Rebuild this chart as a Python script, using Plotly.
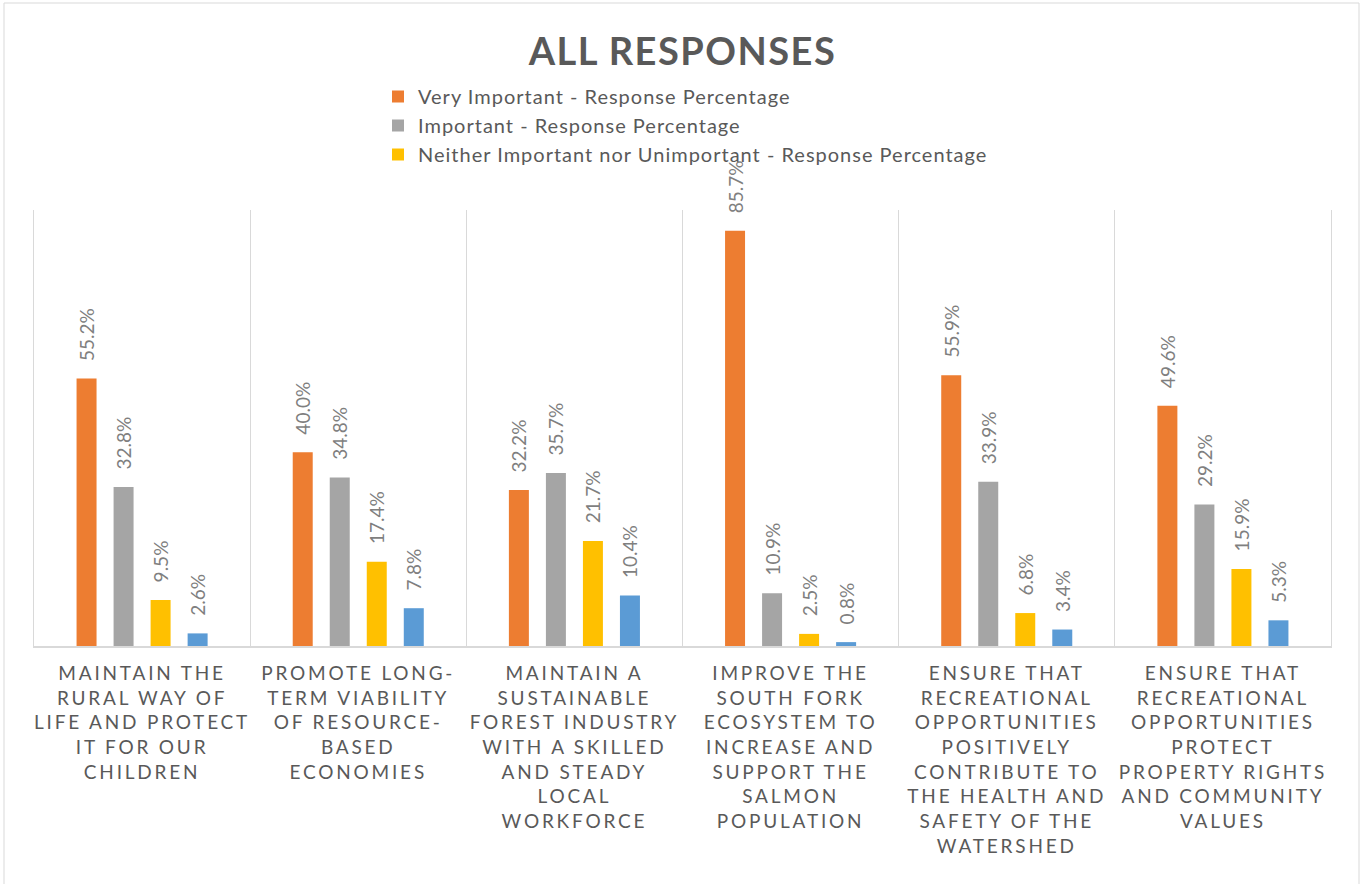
import plotly.graph_objects as go

# Survey priorities, grouped by response level
categories = [
    "MAINTAIN THE<br>RURAL WAY OF<br>LIFE AND PROTECT<br>IT FOR OUR<br>CHILDREN",
    "PROMOTE LONG-<br>TERM VIABILITY<br>OF RESOURCE-<br>BASED<br>ECONOMIES",
    "MAINTAIN A<br>SUSTAINABLE<br>FOREST INDUSTRY<br>WITH A SKILLED<br>AND STEADY<br>LOCAL<br>WORKFORCE",
    "IMPROVE THE<br>SOUTH FORK<br>ECOSYSTEM TO<br>INCREASE AND<br>SUPPORT THE<br>SALMON<br>POPULATION",
    "ENSURE THAT<br>RECREATIONAL<br>OPPORTUNITIES<br>POSITIVELY<br>CONTRIBUTE TO<br>THE HEALTH AND<br>SAFETY OF THE<br>WATERSHED",
    "ENSURE THAT<br>RECREATIONAL<br>OPPORTUNITIES<br>PROTECT<br>PROPERTY RIGHTS<br>AND COMMUNITY<br>VALUES",
]

very_important = [55.2, 40.0, 32.2, 85.7, 55.9, 49.6]
important = [32.8, 34.8, 35.7, 10.9, 33.9, 29.2]
neither = [9.5, 17.4, 21.7, 2.5, 6.8, 15.9]
unimportant = [2.6, 7.8, 10.4, 0.8, 3.4, 5.3]

series = [
    ("Very Important - Response Percentage", very_important, "#ED7D31", True),
    ("Important - Response Percentage", important, "#A5A5A5", True),
    ("Neither Important nor Unimportant - Response Percentage", neither, "#FFC000", True),
    ("Unimportant - Response Percentage", unimportant, "#5B9BD5", False),
]

W, H = 1361, 884
ML, MR, MT, MB = 34, 30, 210, 238
PW, PH = W - ML - MR, H - MT - MB

fig = go.Figure()
for name, vals, color, in_legend in series:
    fig.add_trace(go.Bar(
        x=categories, y=vals, name=name,
        marker=dict(color=color, line=dict(width=0)),
        texttemplate="\u00a0\u00a0\u00a0%{y:.1f}%",
        textposition="outside",
        textangle=-90,
        constraintext="none",
        cliponaxis=False,
        outsidetextfont=dict(family="Lato", size=19, color="#7F7F7F"),
        showlegend=in_legend,
        hoverinfo="skip",
    ))

fig.update_layout(
    width=W, height=H,
    margin=dict(l=ML, r=MR, t=MT, b=MB, autoexpand=False),
    paper_bgcolor="white", plot_bgcolor="white",
    barmode="group", bargap=0.315, bargroupgap=0.46,
    title=dict(
        text="<b>ALL RESPONSES</b>",
        font=dict(family="Lato", size=38, color="#595959"),
        x=0.5, xref="paper", xanchor="center",
        y=1 - 52 / H, yref="container", yanchor="middle",
    ),
    legend=dict(
        orientation="v",
        x=(378 - ML) / PW, xanchor="left",
        y=1 + (MT - 77) / PH, yanchor="top",
        font=dict(family="Lato", size=20, color="#595959"),
        bgcolor="rgba(0,0,0,0)", borderwidth=0,
    ),
    xaxis=dict(
        type="category",
        tickson="boundaries",
        showgrid=True, gridcolor="#D9D9D9", gridwidth=1,
        showline=True, linecolor="#D9D9D9", linewidth=2,
        ticks="", ticklabelstandoff=9,
        tickfont=dict(family="Lato", size=19, color="#595959"),
        fixedrange=True,
    ),
    yaxis=dict(
        range=[0, 90], showgrid=False, zeroline=False,
        showline=True, mirror=True, linecolor="#D9D9D9", linewidth=1,
        showticklabels=False, ticks="", fixedrange=True,
    ),
    shapes=[dict(
        type="rect", xref="paper", yref="paper",
        x0=(4 - ML) / PW, x1=(W - 2 - ML) / PW,
        y0=-(MB + 20) / PH, y1=1 + (MT - 3) / PH,
        line=dict(color="#D9D9D9", width=1), fillcolor="rgba(0,0,0,0)",
        layer="below",
    )],
)

# Wider letter spacing for the category labels, the title and the legend
post = """
var gd = document.getElementById('{plot_id}');
function spacing(){
  gd.querySelectorAll('.xtick text').forEach(function(t){ t.setAttribute('letter-spacing', '2.8px'); });
  gd.querySelectorAll('.gtitle').forEach(function(t){ t.setAttribute('letter-spacing', '1.5px'); });
  gd.querySelectorAll('.legendtext').forEach(function(t){ t.setAttribute('letter-spacing', '1px'); });
  gd.querySelectorAll('.legend .scrollbox').forEach(function(g){ g.removeAttribute('clip-path'); });
}
spacing();
gd.on('plotly_afterplot', spacing);
"""

fig.write_html("out.html", post_script=post, config={"displayModeBar": False})
